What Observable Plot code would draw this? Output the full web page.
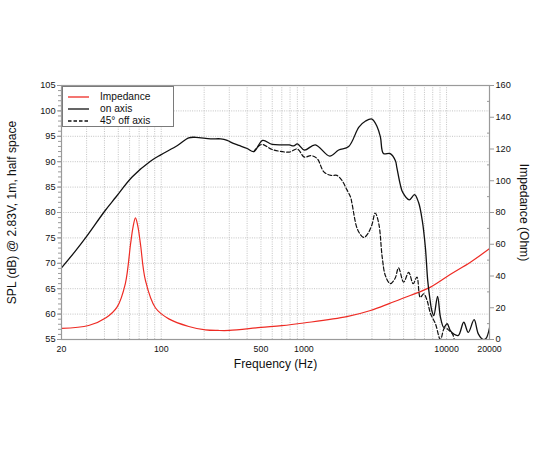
<!DOCTYPE html>
<html>
<head>
<meta charset="utf-8">
<script src="https://cdn.jsdelivr.net/npm/d3@7"></script>
<script src="https://cdn.jsdelivr.net/npm/@observablehq/plot@0.6"></script>
<style>
  html, body { margin: 0; padding: 0; background: #fff; }
  #wrap { position: relative; width: 550px; height: 450px; font-family: "Liberation Sans", Arial, Helvetica, sans-serif; }
  #legend { position: absolute; left: 62px; top: 86px; width: 112px; height: 41px; border: 1px solid #7a7a7a; background: #fff; box-sizing: border-box; }
  #legend .row { position: absolute; left: 0; height: 12px; font-size: 10.2px; line-height: 12px; color: #111; }
  #legend .row span { position: absolute; left: 37px; white-space: nowrap; }
  #legend svg { position: absolute; left: 5px; top: 0; }
</style>
</head>
<body>
<div id="wrap"></div>
<script>
// ---- Data ----
const onAxisFreq = [20, 25, 30, 40, 48, 62.5, 84, 100, 130, 156, 175, 222, 261, 290, 320, 350, 400, 446, 514, 600, 790, 848, 900, 1008, 1202, 1518, 1754, 2062, 2430, 2708, 3000, 3272, 3442, 3612, 4030, 4380, 4480, 4740, 4920, 5480, 5960, 6360, 6760, 7100, 7380, 7620, 7880, 8140, 8650, 9060, 9560, 10100, 10600, 11200, 12100, 13200, 14200, 15600, 16700, 18000, 18900, 20000];
const onAxisDb   = [69.1, 72.4, 75.3, 80.2, 83.0, 87.0, 90.1, 91.4, 93.2, 94.7, 94.8, 94.5, 94.5, 94.2, 93.6, 93.2, 92.6, 92.0, 94.2, 93.4, 93.3, 93.1, 93.5, 92.3, 93.3, 91.1, 92.3, 93.0, 96.8, 98.0, 98.4, 96.8, 94.8, 91.6, 91.6, 90.2, 88.9, 85.5, 84.0, 82.5, 83.5, 82.0, 78.4, 73.2, 66.6, 63.3, 60.7, 59.7, 63.5, 59.4, 57.4, 58.1, 56.8, 56.1, 55.8, 58.4, 56.4, 58.9, 56.1, 55.0, 55.2, 57.3];

const offAxisFreq = [446, 505, 600, 790, 900, 1008, 1120, 1240, 1380, 1550, 1704, 1850, 2000, 2126, 2176, 2390, 2630, 2800, 3000, 3160, 3350, 3540, 3724, 4030, 4350, 4610, 5000, 5430, 5830, 6200, 6540, 6920, 7300, 7720, 8360, 9060, 9700, 10400, 11000, 11600, 12500];
const offAxisDb   = [92.0, 93.4, 92.4, 91.9, 92.5, 90.9, 91.2, 90.6, 88.0, 87.3, 87.3, 86.3, 84.5, 83.0, 81.7, 76.5, 75.1, 75.8, 77.6, 79.9, 77.8, 71.2, 67.6, 66.0, 67.0, 69.1, 66.3, 68.2, 66.0, 67.3, 63.3, 64.0, 62.7, 60.1, 58.1, 55.0, 57.3, 56.8, 56.1, 54.0, 52.0];

const impFreq = [20, 31, 41, 49, 56, 61, 63.5, 66, 68.5, 71.5, 77.5, 91, 113, 156, 204, 250, 300, 500, 700, 1000, 2000, 2930, 4030, 5560, 7720, 10600, 14700, 20000];
const impOhm  = [7.0, 8.8, 13.7, 20.4, 35.1, 60.3, 71.0, 76.6, 71.5, 60.3, 37.2, 20.0, 13.0, 8.2, 6.1, 5.7, 5.7, 7.6, 8.7, 10.4, 14.4, 18.3, 22.9, 27.7, 33.0, 40.9, 48.7, 57.2];

const splTicks = [55, 60, 65, 70, 75, 80, 85, 90, 95, 100, 105];
const splMinor = d3.range(55, 106, 1);
const impTicks = [0, 20, 40, 60, 80, 100, 120, 140, 160];
const impMinor = [10, 30, 50, 70, 90, 110, 130, 150];
const freqLabels = [20, 100, 500, 1000, 10000, 20000];
const freqGrid = [20, 30, 40, 50, 60, 70, 80, 90, 100, 200, 300, 400, 500, 600, 700, 800, 900, 1000, 2000, 3000, 4000, 5000, 6000, 7000, 8000, 9000, 10000, 20000];
const titleLeft = "SPL (dB) @ 2.83V, 1m, half space";
const titleRight = "Impedance (Ohm)";
const titleBottom = "Frequency (Hz)";

// ---- Scale bridge: impedance (0..160 Ohm) shares the SPL (55..105 dB) axis ----
const dbMin = 55, dbMax = 105, impMax = 160;
const impToDb = z => dbMin + z * (dbMax - dbMin) / impMax;
const dbToImp = d => Math.round((d - dbMin) * impMax / (dbMax - dbMin));

const onAxis = onAxisFreq.map((f, i) => ({f, v: onAxisDb[i]}));
const offAxis = offAxisFreq.map((f, i) => ({f, v: offAxisDb[i]}));
const impedance = impFreq.map((f, i) => ({f, v: impToDb(impOhm[i])}));

const red = "#ee2b24";
const axisGray = "#9a9a9a";
const gridStyle = {stroke: "#b4b4b4", strokeOpacity: 1, strokeWidth: 0.8, strokeDasharray: "1,1.3"};
const titleSize = 12.1;

const chart = Plot.plot({
  width: 550,
  height: 450,
  marginLeft: 61,
  marginRight: 61,
  marginTop: 85,
  marginBottom: 111,
  style: {fontFamily: "'Liberation Sans', Arial, Helvetica, sans-serif", fontSize: "9.2px", color: "#111", background: "#fff"},
  x: {type: "log", domain: [20, 20000], axis: null},
  y: {domain: [dbMin, dbMax], axis: null},
  marks: [
    Plot.gridX(freqGrid, gridStyle),
    Plot.gridY(splTicks.slice(1, -1), gridStyle),
    Plot.line(impedance, {x: "f", y: "v", stroke: red, strokeWidth: 1.2, curve: "catmull-rom", clip: true}),
    Plot.line(offAxis, {x: "f", y: "v", stroke: "#111", strokeWidth: 1.2, strokeDasharray: "4,2.2", curve: "catmull-rom", clip: true}),
    Plot.line(onAxis, {x: "f", y: "v", stroke: "#111", strokeWidth: 1.3, curve: "catmull-rom", clip: true}),
    Plot.frame({stroke: axisGray, strokeWidth: 1.2}),
    // left axis
    Plot.axisY(splMinor, {anchor: "left", tickSize: 3, stroke: axisGray, tickFormat: () => "", label: null}),
    Plot.axisY(splTicks, {anchor: "left", tickSize: 4, stroke: axisGray, tickPadding: 2, fill: "#111", label: null}),
    // right axis (impedance)
    Plot.axisY(impMinor.map(impToDb), {anchor: "right", tickSize: -3, stroke: axisGray, tickFormat: () => "", label: null}),
    Plot.axisY(impTicks.map(impToDb), {anchor: "right", tickSize: 4, stroke: axisGray, tickPadding: 2, fill: "#111",
      tickFormat: d => String(dbToImp(d)), label: null}),
    // bottom tick labels
    Plot.text(freqLabels, {x: d => d, frameAnchor: "bottom", lineAnchor: "top", dy: 6.5, text: d => String(d), fill: "#111", fontSize: 8.8}),
    // axis titles
    Plot.text([titleLeft], {frameAnchor: "left", textAnchor: "middle", rotate: -90, dx: -49, text: d => d, fontSize: titleSize, fill: "#111"}),
    Plot.text([titleRight], {frameAnchor: "right", textAnchor: "middle", rotate: 90, dx: 34, text: d => d, fontSize: titleSize, fill: "#111"}),
    Plot.text([titleBottom], {frameAnchor: "bottom", textAnchor: "middle", dy: 28.5, text: d => d, fontSize: titleSize, fill: "#111"})
  ]
});

const wrap = document.getElementById("wrap");
wrap.appendChild(chart);

// legend (inside plot area, top-left)
const legendItems = [
  {label: "Impedance", stroke: red, dash: null},
  {label: "on axis", stroke: "#111", dash: null},
  {label: "45\u00b0 off axis", stroke: "#111", dash: "3.5,2"}
];
const legend = document.createElement("div");
legend.id = "legend";
legendItems.forEach((it, i) => {
  const row = document.createElement("div");
  row.className = "row";
  row.style.top = (3.5 + i * 12.4) + "px";
  row.style.width = "100%";
  row.innerHTML = `<svg width="22" height="12"><line x1="0" x2="21" y1="6" y2="6" stroke="${it.stroke}" stroke-width="1.3" ${it.dash ? `stroke-dasharray="${it.dash}"` : ""}/></svg><span>${it.label}</span>`;
  legend.appendChild(row);
});
wrap.appendChild(legend);
</script>
</body>
</html>
